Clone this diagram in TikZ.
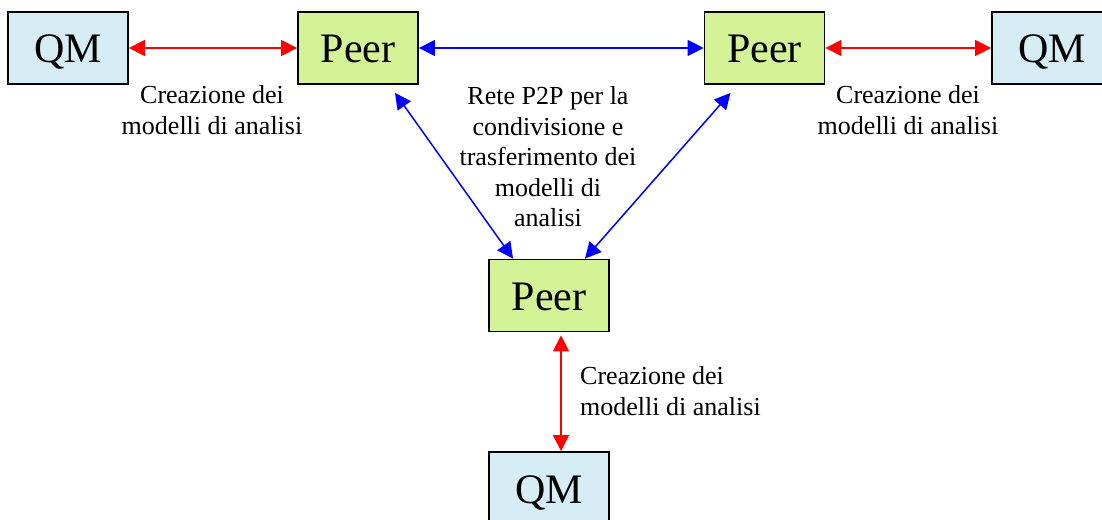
\documentclass[tikz,border=0pt]{standalone}
\usepackage{fontspec}
\setmainfont{Liberation Serif}
\usepackage{tikz}
\usetikzlibrary{arrows.meta}

\definecolor{qmblue}{RGB}{214,237,245}
\definecolor{peergreen}{RGB}{212,242,150}

\begin{document}
\begin{tikzpicture}[x=1pt, y=-1pt,
  box/.style={draw=black, line width=1.8pt, minimum width=120pt, minimum height=72pt,
    inner sep=0pt, text height=30pt, text depth=0pt, font=\fontsize{42}{46}\selectfont},
  qm/.style={box, fill=qmblue},
  peer/.style={box, fill=peergreen},
  link/.style={line width=1.5pt, {Triangle[length=16pt,width=16pt]}-{Triangle[length=16pt,width=16pt]}},
  lbl/.style={align=center, inner sep=0pt, font=\fontsize{26}{30.5}\selectfont}]
  \useasboundingbox (0,0) rectangle (1102,519);

  % Top row
  \node[qm]   (qmL)   at (68,48)    {QM};
  \node[peer] (peerL) at (358,48)   {Peer};
  \node[peer] (peerR) at (764.5,48) {Peer};
  \node[qm]   (qmR)   at (1052,48)  {QM};

  % Bottom column
  \node[peer] (peerB) at (549,295.5) {Peer};
  \node[qm]   (qmB)   at (549,488)   {QM};

  % Creation of the models
  \draw[link, red] (qmL.east) -- (peerL.west);
  \draw[link, red] (peerR.east) -- (qmR.west);
  \draw[link, red] ([xshift=12pt, yshift=-3pt]peerB.south) -- ([xshift=12pt]qmB.north);
  \node[lbl] (txtL) at (212,110) {Creazione dei\\modelli di analisi};
  \node[lbl] (txtR) at (908,110) {Creazione dei\\modelli di analisi};
  \node[lbl, anchor=west, align=left] (txtB) at (580,391) {Creazione dei\\modelli di analisi};

  % P2P network
  \draw[link, blue] (peerL.east) -- (peerR.west);
  \draw[link, blue] ([xshift=37pt, yshift=-8pt]peerL.south) -- ([xshift=-36pt]peerB.north);
  \draw[link, blue] ([xshift=-34pt, yshift=-8pt]peerR.south) -- ([xshift=36pt]peerB.north);
  \node[lbl] (txtM) at (548,157) {Rete P2P per la\\condivisione e\\trasferimento dei\\modelli di\\analisi};
\end{tikzpicture}
\end{document}
